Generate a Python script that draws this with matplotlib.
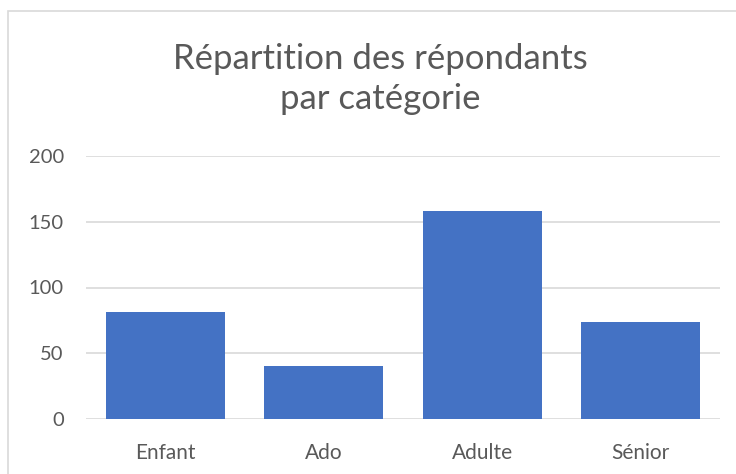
import matplotlib
matplotlib.use('Agg')
import matplotlib.pyplot as plt
from matplotlib.patches import Rectangle

categories = ['Enfant', 'Ado', 'Adulte', 'Sénior']
counts = [81, 40, 158, 74]
yticks = [0, 50, 100, 150, 200]

plt.rcParams['font.family'] = ['Lato', 'DejaVu Sans']

W, H = 736, 474
fig = plt.figure(figsize=(W / 100, H / 100), dpi=100)

# chart frame (cropped at right/bottom in the reference)
fig.patches.append(Rectangle((8 / W, -0.1), 1.0, 1.1 - 11 / H, transform=fig.transFigure,
                             fill=False, edgecolor='#d9d9d9', linewidth=1.2))

ax = fig.add_axes([86 / W, 1 - 419 / H, (720 - 86) / W, (419 - 156) / H])
ax.bar(range(len(categories)), counts, width=0.75, color='#4472c4', zorder=3)
ax.set_xlim(-0.5, len(categories) - 0.5)
ax.set_ylim(0, 200)
ax.set_yticks(yticks)
ax.set_xticks(range(len(categories)))
ax.set_xticklabels(categories)
ax.grid(axis='y', color='#d9d9d9', linewidth=1.2, zorder=0)
for s in ax.spines.values():
    s.set_visible(False)
ax.tick_params(length=0, labelsize=15, labelcolor='#595959')
ax.tick_params(axis='y', pad=16, labelsize=14.5)
ax.tick_params(axis='x', pad=17)

fig.text(380 / W, 1 - 79 / H, 'Répartition des répondants\npar catégorie', ha='center', va='center',
         fontsize=25, color='#595959', linespacing=1.3)

fig.savefig('out.png', dpi=100)
